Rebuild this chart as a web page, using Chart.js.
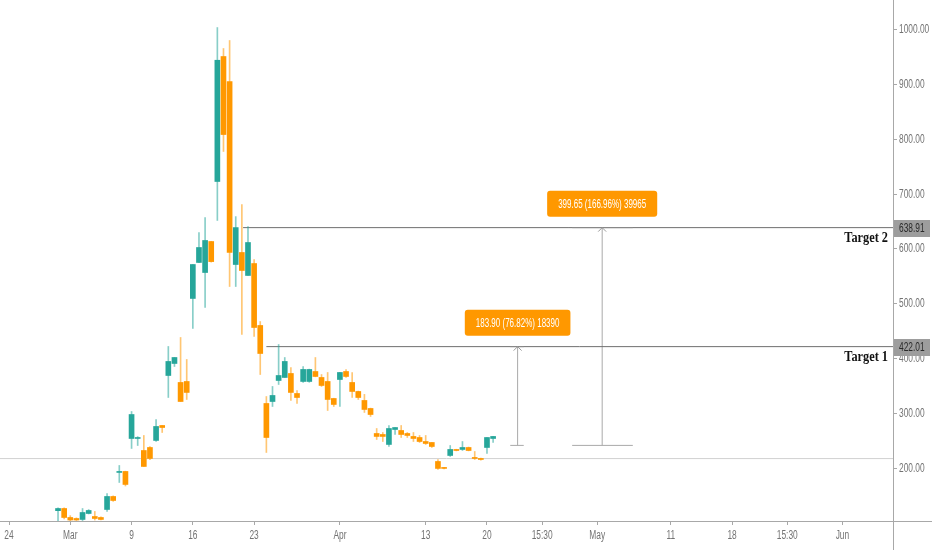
<!DOCTYPE html>
<html>
<head>
<meta charset="utf-8">
<script src="https://cdn.jsdelivr.net/npm/chart.js@4.4.1/dist/chart.umd.min.js"></script>
<style>
	html, body { margin: 0; padding: 0; background: #fff; }
	#wrap { width: 932px; height: 550px; position: relative; }
</style>
</head>
<body>
<div id="wrap"><canvas id="chart"></canvas></div>
<script>
// Bars are numbered from the first session of Feb 24 (two bars per trading day)
var barIndex = [8, 9, 10, 11, 12, 13, 14, 15, 16, 17, 18, 19, 20, 21, 22, 23, 24, 25, 26, 27,
	28, 29, 30, 31, 32, 33, 34, 35, 36, 37, 38, 39, 40, 41, 42, 43, 44, 45, 46, 47,
	48, 49, 50, 51, 52, 53, 54, 55, 56, 57, 58, 59, 60, 61, 62, 63, 64, 65, 66, 67,
	68, 69, 70, 71, 72, 73, 74, 75, 76, 77, 78, 79];
var opens = [123, 127, 110.6, 108.8, 107, 117.9, 112.4, 110.6, 125.2, 148.9, 192.7, 194.5, 254.6, 254.6, 232.7, 238.2, 251, 278.3, 369.4, 391.3,
	356.7, 358.5, 509.8, 575.4, 557.1, 613.6, 723, 950.8, 905.2, 571.7, 593.6, 551.7, 573.5, 460.6, 318.4, 322, 360.3, 365.8, 373.1, 336.6,
	358.5, 358.5, 376.7, 365.8, 358.5, 327.5, 362.1, 376.7, 356.7, 340.3, 323.9, 309.3, 263.7, 261.9, 243.7, 271, 269.2, 263.7, 258.3, 256.4,
	249.1, 247.3, 212.7, 201.8, 223.6, 234.6, 234.6, 238.2, 220, 218.2, 238.2, 254.6];
var highs = [128, 128, 114, 110, 127, 125, 121.6, 112, 154.4, 150, 205.4, 195, 303.8, 258, 260.1, 240, 289.2, 278.3, 422.3, 402.2,
	438.7, 398.6, 571.7, 630, 657.4, 614, 1003.6, 965.4, 980, 659, 681, 641, 580.8, 467.8, 331.1, 349.4, 425.9, 402.2, 384, 342.1,
	385.8, 381, 402.2, 371.2, 374.9, 328, 375, 380.4, 374.9, 341, 335, 310, 272.8, 265.5, 278.3, 274.6, 278.3, 265.5, 265.5, 260.1,
	260.1, 247.3, 216.3, 202, 241.8, 235, 249.1, 239, 230.9, 219, 256.4, 258.3];
var lows = [104, 108, 104, 105, 105, 117, 106, 106, 121.6, 140, 174.4, 168, 236.4, 241.8, 203.6, 216, 249.1, 265.5, 329.3, 385.8,
	322, 325.7, 455.1, 575, 493.4, 576, 652, 777.7, 531.6, 531.6, 444.2, 551.7, 440.5, 371.2, 229.1, 312.9, 353, 365.8, 323.9, 318.4,
	356.7, 357, 367, 349.4, 305.6, 312.9, 312.9, 365.8, 329.3, 325.7, 302, 294.7, 252.8, 249.1, 240, 261.9, 256.4, 256.4, 249.1, 247.3,
	243.7, 238.2, 198.2, 199, 221.8, 232, 232.7, 232, 216.3, 215, 227.3, 247.3];
var closes = [127, 110.6, 106, 106, 119.7, 123.4, 108.8, 107, 148.9, 141.6, 194.5, 170.8, 298.3, 256.4, 203.6, 218.2, 276.5, 274.6, 395, 402.2,
	322, 338.5, 571.7, 602.7, 615.5, 577, 944, 808.6, 593.6, 639, 560.8, 611.8, 456.9, 409.5, 256.4, 333, 369.4, 395, 338.5, 329.3,
	380.4, 380.4, 367.6, 351.2, 325.7, 316.6, 374.9, 367.6, 340.3, 329.3, 307.5, 298.3, 258.3, 258.3, 272.8, 274.6, 261.9, 260.1, 254.6, 249.1,
	245.5, 240, 200, 200, 234.6, 232.7, 238.2, 232.7, 218.2, 216.3, 256.4, 258.3];

var xTickValues = [0, 10, 20, 30, 40, 54, 68, 78, 87, 96, 108, 118, 127, 136];
var xTickLabels = ["24", "Mar", "9", "16", "23", "Apr", "13", "20", "15:30", "May", "11", "18", "15:30", "Jun"];
var yTickValues = [200, 300, 400, 500, 600, 700, 800, 900, 1000];

var supportPrice = 218;
var targetNames = ["Target 1", "Target 2"];
var targetPrices = [422.01, 638.91];
var targetStart = [42, 38.2];

var measureBar = [83, 96.8];
var measureBase = [242, 242];
var measureTop = [422.01, 638.91];
var measureCapFrom = [81.8, 91.9];
var measureCapTo = [84, 101.8];
var measureText = ["183.90 (76.82%) 18390", "399.65 (166.96%) 39965"];

var X_MIN = -1.47, X_MAX = 144.26;
var Y_MIN = 104.2, Y_MAX = 1053.8;

var UP = "#26a69a", DOWN = "#ff9800";
var UP_WICK = "rgba(38,166,154,0.55)", DOWN_WICK = "rgba(255,152,0,0.55)";
var SANS = "'Liberation Sans', Arial, sans-serif";
var AXIS_TEXT = "#737373";

function seg(x1, y1, x2, y2, color, order) {
	return {
		type: "line",
		data: [{ x: x1, y: y1 }, { x: x2, y: y2 }],
		borderColor: color,
		borderWidth: 1,
		pointRadius: 0,
		fill: false,
		tension: 0,
		order: order
	};
}

var wickData = barIndex.map(function (x, k) { return { x: x, y: [lows[k], highs[k]] }; });
var bodyData = barIndex.map(function (x, k) { return { x: x, y: [opens[k], closes[k]] }; });
var bodyColors = barIndex.map(function (x, k) { return closes[k] >= opens[k] ? UP : DOWN; });
var wickColors = barIndex.map(function (x, k) { return closes[k] >= opens[k] ? UP_WICK : DOWN_WICK; });

var datasets = [
	{ type: "bar", data: wickData, backgroundColor: wickColors, barThickness: 1, grouped: false, order: 2 },
	{ type: "bar", data: bodyData, backgroundColor: bodyColors, barThickness: 5, minBarLength: 1, grouped: false, order: 1 },
	seg(X_MIN, supportPrice, X_MAX, supportPrice, "#d2d2d2", 5)
];
for (var t = 0; t < targetPrices.length; t++) {
	datasets.push(seg(targetStart[t], targetPrices[t], X_MAX, targetPrices[t], "#6e6e6e", 4));
}
for (var m = 0; m < measureBar.length; m++) {
	datasets.push(seg(measureBar[m], measureBase[m], measureBar[m], measureTop[m], "#a9a9a9", 4));
	datasets.push(seg(measureCapFrom[m], measureBase[m], measureCapTo[m], measureBase[m], "#a9a9a9", 4));
	datasets.push(seg(measureCapFrom[m], measureTop[m], measureCapTo[m], measureTop[m], "#8a8a8a", 3));
}

function roundRect(ctx, x, y, w, h, r) {
	ctx.beginPath();
	ctx.moveTo(x + r, y);
	ctx.lineTo(x + w - r, y);
	ctx.quadraticCurveTo(x + w, y, x + w, y + r);
	ctx.lineTo(x + w, y + h - r);
	ctx.quadraticCurveTo(x + w, y + h, x + w - r, y + h);
	ctx.lineTo(x + r, y + h);
	ctx.quadraticCurveTo(x, y + h, x, y + h - r);
	ctx.lineTo(x, y + r);
	ctx.quadraticCurveTo(x, y, x + r, y);
	ctx.closePath();
}

// condensed text: the reference uses a narrow face, so squeeze horizontally
function narrowText(ctx, text, x, y, align, squeeze) {
	ctx.save();
	ctx.translate(x, y);
	ctx.scale(squeeze, 1);
	ctx.textAlign = align;
	ctx.fillText(text, 0, 0);
	ctx.restore();
}

var overlay = {
	id: "overlay",
	afterDraw: function (chart) {
		var ctx = chart.ctx;
		var xs = chart.scales.x, ys = chart.scales.y;
		var area = chart.chartArea;
		ctx.save();

		// axis lines run across the whole picture
		ctx.strokeStyle = "#a8a8a8";
		ctx.lineWidth = 1;
		ctx.beginPath();
		ctx.moveTo(0, Math.round(area.bottom) + 0.5);
		ctx.lineTo(chart.width, Math.round(area.bottom) + 0.5);
		ctx.moveTo(Math.round(area.right) + 0.5, 0);
		ctx.lineTo(Math.round(area.right) + 0.5, chart.height);
		ctx.stroke();

		// tick labels
		ctx.font = "12.5px " + SANS;
		ctx.fillStyle = AXIS_TEXT;
		ctx.textBaseline = "middle";
		yTickValues.forEach(function (v) {
			narrowText(ctx, v.toFixed(2), area.right + 6, ys.getPixelForValue(v), "left", 0.67);
		});
		xTickValues.forEach(function (v, i) {
			narrowText(ctx, xTickLabels[i], xs.getPixelForValue(v), area.bottom + 15, "center", 0.67);
		});

		// measure tools: arrow head and orange label
		for (var k = 0; k < measureBar.length; k++) {
			var px = xs.getPixelForValue(measureBar[k]);
			var top = ys.getPixelForValue(measureTop[k]);
			ctx.strokeStyle = "#9a9a9a";
			ctx.beginPath();
			ctx.moveTo(px - 4, top + 4);
			ctx.lineTo(px, top);
			ctx.lineTo(px + 4, top + 4);
			ctx.stroke();

			ctx.font = "12.5px " + SANS;
			var w = ctx.measureText(measureText[k]).width * 0.64 + 22;
			var h = 26;
			var bx = px - w / 2, by = top - 11 - h;
			ctx.fillStyle = DOWN;
			roundRect(ctx, bx, by, w, h, 3);
			ctx.fill();
			ctx.fillStyle = "#fff";
			ctx.textBaseline = "middle";
			narrowText(ctx, measureText[k], px, by + h / 2 + 0.5, "center", 0.64);
		}

		// target captions
		ctx.font = "bold 14px 'Liberation Serif', 'DejaVu Serif', serif";
		ctx.fillStyle = "#111";
		ctx.textBaseline = "middle";
		for (var i = 0; i < targetPrices.length; i++) {
			narrowText(ctx, targetNames[i], area.right - 5, ys.getPixelForValue(targetPrices[i]) + 11, "right", 0.88);
		}

		// price tags on the axis
		ctx.font = "12.5px " + SANS;
		for (var j = 0; j < targetPrices.length; j++) {
			var py = Math.round(ys.getPixelForValue(targetPrices[j]));
			ctx.fillStyle = "#9d9d9d";
			ctx.fillRect(area.right + 1, py - 8, chart.width - area.right - 3, 17);
			ctx.fillStyle = "#2a2a2a";
			narrowText(ctx, targetPrices[j].toFixed(2), area.right + 6, py + 0.5, "left", 0.67);
		}
		ctx.restore();
	}
};

new Chart(document.getElementById("chart"), {
	type: "bar",
	data: { datasets: datasets },
	options: {
		responsive: true,
		maintainAspectRatio: false,
		animation: false,
		events: [],
		layout: { padding: 0 },
		plugins: { legend: { display: false }, tooltip: { enabled: false } },
		scales: {
			x: {
				type: "linear",
				min: X_MIN,
				max: X_MAX,
				offset: false,
				afterBuildTicks: function (axis) {
					axis.ticks = xTickValues.map(function (v) { return { value: v }; });
				},
				afterFit: function (axis) {
					axis.height = 29;
					axis.paddingLeft = 0;
					axis.paddingRight = 0;
				},
				border: { display: false },
				grid: { offset: false, drawOnChartArea: false, drawTicks: true, tickLength: 4, tickColor: "#a8a8a8" },
				ticks: { display: false, autoSkip: false, maxRotation: 0 }
			},
			y: {
				position: "right",
				min: Y_MIN,
				max: Y_MAX,
				afterBuildTicks: function (axis) {
					axis.ticks = yTickValues.map(function (v) { return { value: v }; });
				},
				afterFit: function (axis) {
					axis.width = 39;
					axis.paddingTop = 0;
					axis.paddingBottom = 0;
				},
				border: { display: false },
				grid: { offset: false, drawOnChartArea: false, drawTicks: true, tickLength: 4, tickColor: "#a8a8a8" },
				ticks: { display: false }
			}
		}
	},
	plugins: [overlay]
});
</script>
</body>
</html>
